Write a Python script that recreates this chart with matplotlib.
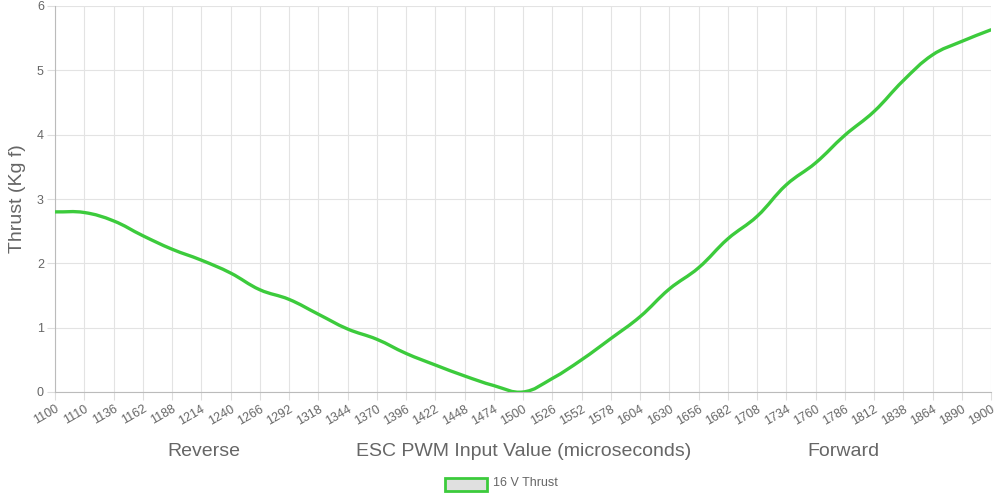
import numpy as np
import matplotlib
matplotlib.use('Agg')
import matplotlib.pyplot as plt
from matplotlib.path import Path
from matplotlib.patches import PathPatch, Rectangle

# PWM categories (x axis) and thrust values
pwm = [1100, 1110] + list(range(1136, 1891, 26)) + [1900]
thrust = [2.80, 2.79, 2.66, 2.43, 2.22, 2.05, 1.85, 1.59, 1.44, 1.21,
          0.98, 0.82, 0.60, 0.42, 0.25, 0.10, 0.00, 0.21, 0.50, 0.83,
          1.17, 1.60, 1.93, 2.38, 2.73, 3.22, 3.56, 3.99, 4.36, 4.84,
          5.24, 5.45, 5.63]
series_label = '16 V Thrust'
line_color = '#3ccb3c'
grey = '#666666'

plt.rcParams['font.family'] = ['Liberation Sans', 'DejaVu Sans']

fig = plt.figure(figsize=(10, 5), dpi=100)
ax = fig.add_axes([0.055, 0.216, 0.936, 0.772])
n = len(pwm)
ax.set_xlim(0, n - 1)
ax.set_ylim(0, 6)

# smooth line like chart.js (tension 0.4), control points in pixel space
xs = np.arange(n, dtype=float)
ys = np.array(thrust)
sx = 936 / (n - 1)
sy = 386 / 6
px, py = xs * sx, ys * sy
t = 0.4
verts = [(xs[0], ys[0])]
codes = [Path.MOVETO]
cp_prev = []
cp_next = []
for i in range(n):
    a = max(i - 1, 0)
    b = min(i + 1, n - 1)
    d01 = np.hypot(px[i] - px[a], py[i] - py[a])
    d12 = np.hypot(px[b] - px[i], py[b] - py[i])
    tot = d01 + d12 if d01 + d12 > 0 else 1
    fa = t * d01 / tot
    fb = t * d12 / tot
    dx = px[b] - px[a]
    dy = py[b] - py[a]
    cp_prev.append(((px[i] - fa * dx) / sx, (py[i] - fa * dy) / sy))
    cp_next.append(((px[i] + fb * dx) / sx, (py[i] + fb * dy) / sy))
for i in range(1, n):
    verts += [cp_next[i - 1], cp_prev[i], (xs[i], ys[i])]
    codes += [Path.CURVE4] * 3
ax.add_patch(PathPatch(Path(verts, codes), fill=False, edgecolor=line_color,
                       lw=2.4, capstyle='round', joinstyle='round', zorder=3))

# grid and axes
ax.set_xticks(range(n))
ax.set_xticklabels([str(p) for p in pwm], rotation=30, ha='right', va='top',
                   rotation_mode='anchor', fontsize=9, color=grey)
ax.set_yticks(range(7))
ax.set_yticklabels([str(v) for v in range(7)], fontsize=9, color=grey)
ax.grid(True, color='#e3e3e3', lw=0.8)
ax.set_axisbelow(True)
ax.tick_params(axis='both', length=6, color='#dddddd', pad=2)
for s in ['top', 'right']:
    ax.spines[s].set_visible(False)
for s in ['left', 'bottom']:
    ax.spines[s].set_color('#bbbbbb')
ax.set_ylabel('Thrust (Kg f)', fontsize=14, color=grey, labelpad=8)

# x axis title pieces
fig.text(0.204, 0.098, 'Reverse', fontsize=14, color=grey, ha='center', va='center')
fig.text(0.524, 0.098, 'ESC PWM Input Value (microseconds)', fontsize=14,
         color=grey, ha='center', va='center')
fig.text(0.843, 0.098, 'Forward', fontsize=14, color=grey, ha='center', va='center')

# legend
fig.patches.append(Rectangle((0.445, 0.018), 0.042, 0.027, transform=fig.transFigure,
                             facecolor='#e0e0e0', edgecolor=line_color, lw=2))
fig.text(0.493, 0.033, series_label, fontsize=9, color=grey, ha='left', va='center')

fig.savefig('out.png', dpi=100)
